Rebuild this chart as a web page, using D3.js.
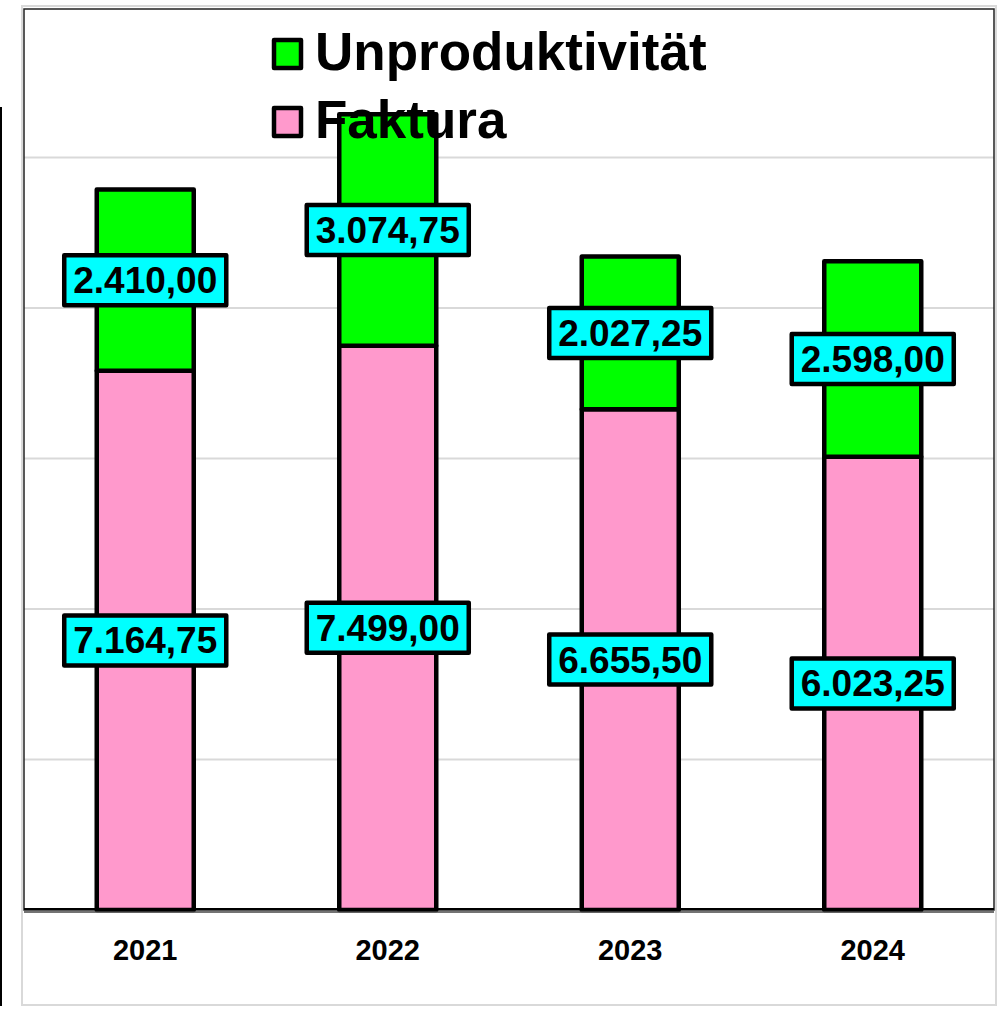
<!DOCTYPE html>
<html>
<head>
<meta charset="utf-8">
<script src="https://cdn.jsdelivr.net/npm/d3@7"></script>
<style>
  body { margin: 0; background: #fff; }
  svg { display: block; font-family: "Liberation Sans", Arial, sans-serif; font-weight: bold; }
</style>
</head>
<body>
<div id="chart"></div>
<script>
// Data
var years = ["2021", "2022", "2023", "2024"];
var faktura = [7164.75, 7499.00, 6655.50, 6023.25];
var unproduktiv = [2410.00, 3074.75, 2027.25, 2598.00];
var gridTicks = [2000, 4000, 6000, 8000, 10000];
var seriesNames = ["Unproduktivität", "Faktura"];

var colors = { faktura: "#ff99cc", unproduktiv: "#00ff00", label: "#00ffff" };

var W = 1000, H = 1009;
var plot = { left: 24, right: 994, top: 9, bottom: 910 };

var svg = d3.select("#chart").append("svg")
    .attr("width", W)
    .attr("height", H);

// outer light frame
svg.append("rect")
    .attr("x", 22).attr("y", 6)
    .attr("width", 974).attr("height", 999)
    .attr("fill", "#fff")
    .attr("stroke", "#d9d9d9")
    .attr("stroke-width", 2);

// left black line
svg.append("line")
    .attr("x1", 1).attr("x2", 1)
    .attr("y1", 107).attr("y2", 1006)
    .attr("stroke", "#000")
    .attr("stroke-width", 2);

var x = d3.scaleBand()
    .domain(years)
    .range([plot.left, plot.right])
    .paddingInner(0.6)
    .paddingOuter(0.3);

var y = d3.scaleLinear()
    .domain([0, 12000])
    .range([plot.bottom, 7]);

// gridlines
svg.append("g")
    .selectAll("line")
    .data(gridTicks)
    .join("line")
    .attr("x1", plot.left).attr("x2", plot.right)
    .attr("y1", function (d) { return y(d); })
    .attr("y2", function (d) { return y(d); })
    .attr("stroke", "#d9d9d9")
    .attr("stroke-width", 2);

// plot frame
svg.append("rect")
    .attr("x", plot.left).attr("y", plot.top)
    .attr("width", plot.right - plot.left)
    .attr("height", plot.bottom - plot.top)
    .attr("fill", "none")
    .attr("stroke", "#222")
    .attr("stroke-width", 1.5);

var rows = years.map(function (yr, i) {
    return { year: yr, f: faktura[i], u: unproduktiv[i] };
});

// bars
var bars = svg.append("g");
bars.selectAll("rect.f")
    .data(rows)
    .join("rect")
    .attr("class", "f")
    .attr("x", function (d) { return x(d.year); })
    .attr("width", x.bandwidth())
    .attr("y", function (d) { return y(d.f); })
    .attr("height", function (d) { return y(0) - y(d.f); })
    .attr("fill", colors.faktura)
    .attr("stroke", "#000")
    .attr("stroke-width", 4.5)
    .attr("stroke-linejoin", "round");

bars.selectAll("rect.u")
    .data(rows)
    .join("rect")
    .attr("class", "u")
    .attr("x", function (d) { return x(d.year); })
    .attr("width", x.bandwidth())
    .attr("y", function (d) { return y(d.f + d.u); })
    .attr("height", function (d) { return y(d.f) - y(d.f + d.u); })
    .attr("fill", colors.unproduktiv)
    .attr("stroke", "#000")
    .attr("stroke-width", 4.5)
    .attr("stroke-linejoin", "round");

// axis base line
svg.append("line")
    .attr("x1", plot.left).attr("x2", plot.right)
    .attr("y1", 909).attr("y2", 909)
    .attr("stroke", "#000").attr("stroke-width", 2);
svg.append("line")
    .attr("x1", plot.left).attr("x2", plot.right)
    .attr("y1", 912).attr("y2", 912)
    .attr("stroke", "#444").attr("stroke-width", 1.5);

// category labels
svg.append("g")
    .selectAll("text")
    .data(years)
    .join("text")
    .attr("x", function (d) { return x(d) + x.bandwidth() / 2; })
    .attr("y", 960)
    .attr("text-anchor", "middle")
    .attr("font-size", 29)
    .text(function (d) { return d; });

// value labels
var fmt = function (v) {
    return d3.format(",.2f")(v).replace(/,/g, "#").replace(".", ",").replace(/#/g, ".");
};

var labels = [];
rows.forEach(function (d) {
    labels.push({ year: d.year, v: d.f, cy: (y(0) + y(d.f)) / 2 });
    labels.push({ year: d.year, v: d.u, cy: (y(d.f) + y(d.f + d.u)) / 2 });
});

var lg = svg.append("g").selectAll("g")
    .data(labels)
    .join("g");

lg.each(function (d) {
    var g = d3.select(this);
    var cx = x(d.year) + x.bandwidth() / 2;
    var rect = g.append("rect");
    var t = g.append("text")
        .attr("x", cx)
        .attr("y", d.cy + 13)
        .attr("text-anchor", "middle")
        .attr("font-size", 37)
        .text(fmt(d.v));
    var w = t.node().getComputedTextLength() + 18;
    rect.attr("x", cx - w / 2)
        .attr("y", d.cy - 25)
        .attr("width", w)
        .attr("height", 50)
        .attr("fill", colors.label)
        .attr("stroke", "#000")
        .attr("stroke-width", 4.5)
        .attr("stroke-linejoin", "round");
});

// legend
var legend = svg.append("g");
var legendColors = [colors.unproduktiv, colors.faktura];
seriesNames.forEach(function (name, i) {
    var ly = 40 + i * 68;
    legend.append("rect")
        .attr("x", 274).attr("y", ly)
        .attr("width", 27).attr("height", 28)
        .attr("fill", legendColors[i])
        .attr("stroke", "#000")
        .attr("stroke-width", 4.5)
        .attr("stroke-linejoin", "round");
    legend.append("text")
        .attr("x", 315)
        .attr("y", ly + 30)
        .attr("font-size", 53)
        .text(name);
});
</script>
</body>
</html>
